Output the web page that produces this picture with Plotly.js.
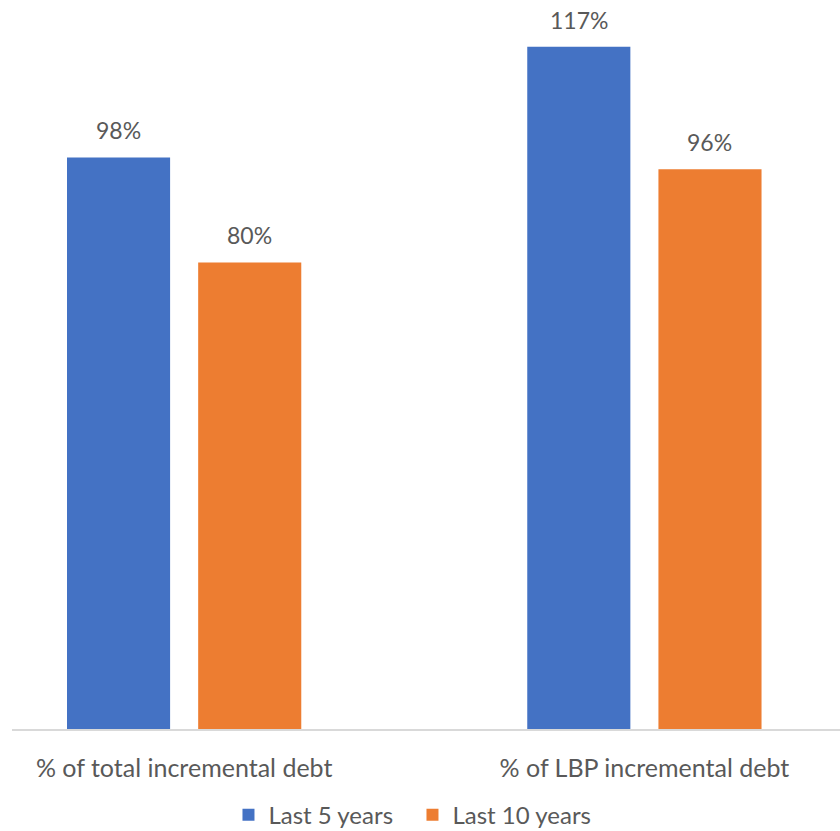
<!DOCTYPE html>
<html>
<head>
<meta charset="utf-8">
<script src="https://cdn.plot.ly/plotly-3.0.1.min.js"></script>
<style>
  html, body { margin: 0; padding: 0; background: #ffffff; }
  #chart { width: 840px; height: 831px; }
</style>
</head>
<body>
<div id="chart"></div>
<script>
// Share of incremental debt covered, by horizon
const categories = ['% of total incremental debt', '% of LBP incremental debt'];
const seriesNames = ['Last 5 years', 'Last 10 years'];
const last5Years = [98, 117];
const last10Years = [80, 96];
const colors = ['#4472C4', '#ED7D31'];

const font = 'Lato, "Open Sans", "Liberation Sans", sans-serif';
const textColor = '#595959';
const values = [last5Years, last10Years];

const bargap = 0.43;
const bargroupgap = 0.214;

const traces = values.map((vals, i) => ({
  type: 'bar',
  name: seriesNames[i],
  x: categories,
  y: vals,
  marker: { color: colors[i] },
  hoverinfo: 'skip'
}));

// Value labels sit above each bar, at the centre of its slot in the group
const slot = (1 - bargap) / values.length;
const annotations = [];
values.forEach((vals, i) => {
  const offset = -(1 - bargap) / 2 + slot * (i + 0.5);
  vals.forEach((v, j) => {
    annotations.push({
      xref: 'x', yref: 'y',
      x: j + offset, y: v,
      text: v + '%',
      showarrow: false,
      xanchor: 'center', yanchor: 'middle',
      yshift: 27,
      font: { family: font, size: 23, color: textColor }
    });
  });
});

const layout = {
  width: 840,
  height: 831,
  margin: { l: 12, r: 0, t: 0, b: 102 },
  paper_bgcolor: '#ffffff',
  plot_bgcolor: '#ffffff',
  barmode: 'group',
  bargap: bargap,
  bargroupgap: bargroupgap,
  font: { family: font, size: 24, color: textColor },
  xaxis: {
    type: 'category',
    range: [-0.374, 1.425],
    showline: true,
    linecolor: '#d9d9d9',
    linewidth: 1.5,
    showgrid: false,
    zeroline: false,
    ticks: '',
    ticklabelstandoff: 16,
    tickfont: { family: font, size: 25, color: textColor }
  },
  yaxis: {
    range: [0, 125],
    showgrid: false,
    zeroline: false,
    showline: false,
    showticklabels: false,
    ticks: ''
  },
  annotations: annotations,
  showlegend: true,
  legend: {
    orientation: 'h',
    xref: 'container',
    yref: 'container',
    x: 0.272,
    xanchor: 'left',
    y: 0.019,
    yanchor: 'middle',
    font: { family: font, size: 24, color: textColor },
    itemwidth: 30,
    entrywidth: 139,
    entrywidthmode: 'pixels',
    traceorder: 'normal'
  }
};

Plotly.newPlot('chart', traces, layout, { displayModeBar: false, staticPlot: true });
</script>
</body>
</html>
